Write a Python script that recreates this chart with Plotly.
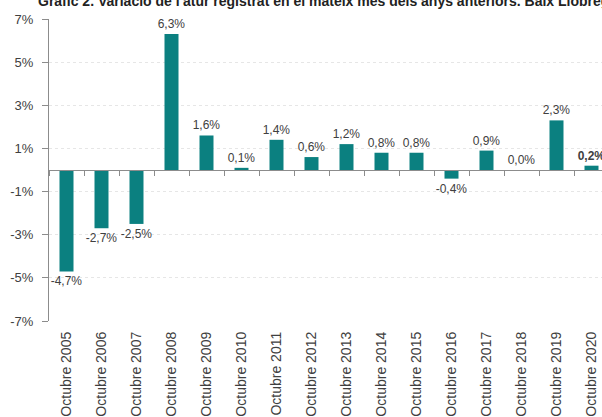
import plotly.graph_objects as go

categories = ["Octubre 2005", "Octubre 2006", "Octubre 2007", "Octubre 2008",
              "Octubre 2009", "Octubre 2010", "Octubre 2011", "Octubre 2012",
              "Octubre 2013", "Octubre 2014", "Octubre 2015", "Octubre 2016",
              "Octubre 2017", "Octubre 2018", "Octubre 2019", "Octubre 2020"]
values = [-4.7, -2.7, -2.5, 6.3, 1.6, 0.1, 1.4, 0.6, 1.2, 0.8, 0.8, -0.4, 0.9, 0.0, 2.3, 0.2]
labels = ["-4,7%", "-2,7%", "-2,5%", "6,3%", "1,6%", "0,1%", "1,4%", "0,6%",
          "1,2%", "0,8%", "0,8%", "-0,4%", "0,9%", "0,0%", "2,3%", "<b>0,2%</b>"]
ytick_vals = [-7, -5, -3, -1, 1, 3, 5, 7]
ytick_text = ["-7%", "-5%", "-3%", "-1%", "1%", "3%", "5%", "7%"]
title = "Gràfic 2. Variació de l'atur registrat en el mateix mes dels anys anteriors. Baix Llobregat"

BAR = "#0B8080"
TXT = "#404040"
FONT = "Liberation Sans, Arial, sans-serif"

fig = go.Figure()
fig.add_trace(go.Bar(
    x=categories, y=values, text=labels, textposition="outside",
    constraintext="none",
    textfont=dict(family=FONT, size=12, color=TXT),
    marker=dict(color=BAR, line=dict(width=0)),
    cliponaxis=False, showlegend=False, hoverinfo="skip",
))
# invisible trace to drive the zero-line axis with boundary ticks
fig.add_trace(go.Scatter(x=categories, y=[None] * len(categories), xaxis="x2",
                         mode="markers", showlegend=False, hoverinfo="skip"))

xr = [-0.5, 15.3]
fig.update_layout(
    width=602, height=417,
    margin=dict(l=49, r=0, t=19, b=96, autoexpand=False),
    paper_bgcolor="white", plot_bgcolor="white",
    bargap=0.6,
    font=dict(family=FONT, color=TXT),
    xaxis=dict(type="category", range=xr, showline=False, showgrid=False,
               ticks="", tickangle=-90, tickfont=dict(size=14, color=TXT),
               ticklabelstandoff=7, zeroline=False, automargin=False),
    xaxis2=dict(type="category", overlaying="x", anchor="free", position=0.5,
                range=xr, showline=True, linecolor="#8C8C8C", linewidth=1,
                ticks="outside", tickson="boundaries", ticklen=5,
                tickcolor="#8C8C8C", showticklabels=False, showgrid=False,
                zeroline=False, side="bottom", automargin=False),
    yaxis=dict(range=[-7, 7], tickvals=ytick_vals, ticktext=ytick_text,
               showline=True, linecolor="#8C8C8C", linewidth=1,
               ticks="outside", ticklen=6, tickcolor="#8C8C8C",
               tickfont=dict(size=13, color=TXT), ticklabelstandoff=6,
               showgrid=True, gridcolor="#E6E6E6", griddash="dot",
               zeroline=False, automargin=False),
    title=dict(text="<b>" + title + "</b>", x=38 / 602, xanchor="left",
               xref="container", yref="container", y=0.997, yanchor="middle",
               font=dict(family=FONT, size=14, color="#222222"),
               automargin=False),
)

fig.write_html("out.html", config={"displayModeBar": False},
               post_script="document.body.style.margin='0';document.body.style.overflow='hidden';")
